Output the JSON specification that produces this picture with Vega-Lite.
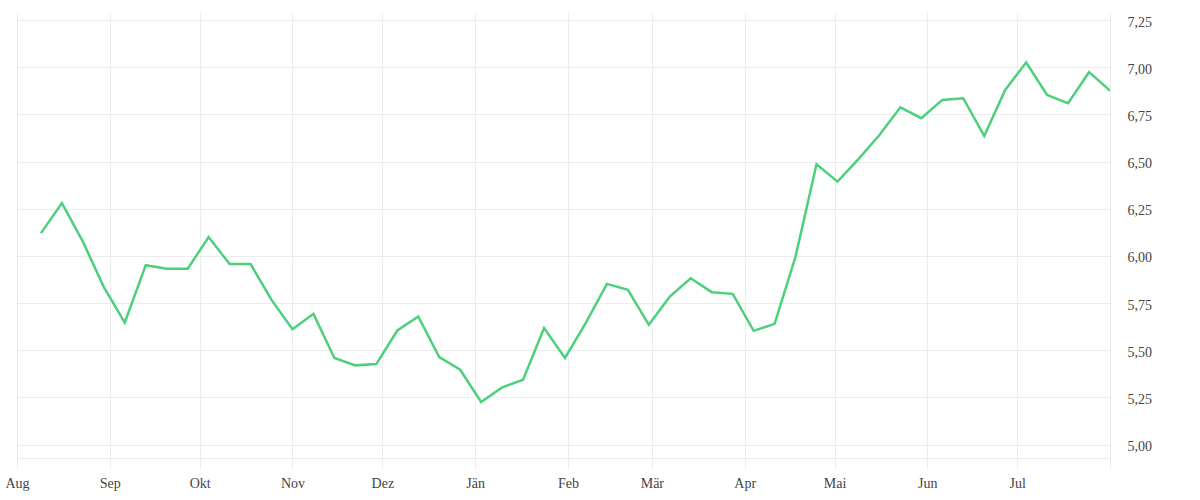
{
  "$schema": "https://vega.github.io/schema/vega-lite/v6.json",
  "width": 1093,
  "height": 446,
  "autosize": {"type": "none"},
  "padding": {"left": 17, "top": 12, "right": 90, "bottom": 42},
  "background": "#ffffff",
  "config": {
    "view": {"stroke": null},
    "font": "Liberation Serif",
    "axis": {
      "labelFont": "Liberation Serif",
      "labelFontSize": 14,
      "labelColor": "#444444",
      "gridColor": "#ececec",
      "domainColor": "#ececec",
      "tickColor": "#ececec",
      "title": null
    }
  },
  "data": {
    "values": [
      {"date": "2022-08-09T00:00", "value": 6.121},
      {"date": "2022-08-16T00:00", "value": 6.280},
      {"date": "2022-08-23T00:00", "value": 6.076},
      {"date": "2022-08-30T00:00", "value": 5.835},
      {"date": "2022-09-06T00:00", "value": 5.647},
      {"date": "2022-09-13T00:00", "value": 5.951},
      {"date": "2022-09-20T00:00", "value": 5.932},
      {"date": "2022-09-27T00:00", "value": 5.932},
      {"date": "2022-10-04T00:00", "value": 6.100},
      {"date": "2022-10-11T00:00", "value": 5.957},
      {"date": "2022-10-18T00:00", "value": 5.957},
      {"date": "2022-10-25T00:00", "value": 5.767},
      {"date": "2022-11-01T00:00", "value": 5.612},
      {"date": "2022-11-08T00:00", "value": 5.693},
      {"date": "2022-11-15T00:00", "value": 5.459},
      {"date": "2022-11-22T00:00", "value": 5.420},
      {"date": "2022-11-29T00:00", "value": 5.427},
      {"date": "2022-12-06T00:00", "value": 5.605},
      {"date": "2022-12-13T00:00", "value": 5.679},
      {"date": "2022-12-20T00:00", "value": 5.464},
      {"date": "2022-12-27T00:00", "value": 5.397},
      {"date": "2023-01-03T00:00", "value": 5.226},
      {"date": "2023-01-10T00:00", "value": 5.303},
      {"date": "2023-01-17T00:00", "value": 5.344},
      {"date": "2023-01-24T00:00", "value": 5.618},
      {"date": "2023-01-31T00:00", "value": 5.459},
      {"date": "2023-02-07T00:00", "value": 5.647},
      {"date": "2023-02-14T00:00", "value": 5.852},
      {"date": "2023-02-21T00:00", "value": 5.820},
      {"date": "2023-02-28T00:00", "value": 5.635},
      {"date": "2023-03-07T00:00", "value": 5.785},
      {"date": "2023-03-14T00:00", "value": 5.882},
      {"date": "2023-03-21T00:00", "value": 5.808},
      {"date": "2023-03-28T00:00", "value": 5.799},
      {"date": "2023-04-04T00:00", "value": 5.603},
      {"date": "2023-04-11T00:00", "value": 5.640},
      {"date": "2023-04-18T00:00", "value": 5.997},
      {"date": "2023-04-25T00:00", "value": 6.486},
      {"date": "2023-05-02T00:00", "value": 6.394},
      {"date": "2023-05-09T00:00", "value": 6.513},
      {"date": "2023-05-16T00:00", "value": 6.641},
      {"date": "2023-05-23T00:00", "value": 6.788},
      {"date": "2023-05-30T00:00", "value": 6.730},
      {"date": "2023-06-06T00:00", "value": 6.827},
      {"date": "2023-06-13T00:00", "value": 6.836},
      {"date": "2023-06-20T00:00", "value": 6.636},
      {"date": "2023-06-27T00:00", "value": 6.880},
      {"date": "2023-07-04T00:00", "value": 7.026},
      {"date": "2023-07-11T00:00", "value": 6.853},
      {"date": "2023-07-18T00:00", "value": 6.809},
      {"date": "2023-07-25T00:00", "value": 6.974},
      {"date": "2023-08-01T00:00", "value": 6.876}
    ]
  },
  "mark": {"type": "line", "color": "#4cd07d", "strokeWidth": 2.5, "clip": true},
  "encoding": {
    "x": {
      "field": "date",
      "type": "temporal",
      "scale": {"domain": [{"year": 2022, "month": 8, "date": 1}, {"year": 2023, "month": 8, "date": 1}], "nice": false},
      "axis": {
        "values": [
          {"year": 2022, "month": 8, "date": 1},
          {"year": 2022, "month": 9, "date": 1},
          {"year": 2022, "month": 10, "date": 1},
          {"year": 2022, "month": 11, "date": 1},
          {"year": 2022, "month": 12, "date": 1},
          {"year": 2023, "month": 1, "date": 1},
          {"year": 2023, "month": 2, "date": 1},
          {"year": 2023, "month": 3, "date": 1},
          {"year": 2023, "month": 4, "date": 1},
          {"year": 2023, "month": 5, "date": 1},
          {"year": 2023, "month": 6, "date": 1},
          {"year": 2023, "month": 7, "date": 1},
          {"year": 2023, "month": 8, "date": 1}
        ],
        "labelExpr": "year(datum.value) == 2023 && month(datum.value) == 7 ? '' : ['Jän','Feb','Mär','Apr','Mai','Jun','Jul','Aug','Sep','Okt','Nov','Dez'][month(datum.value)]",
        "tickSize": 10,
        "labelPadding": 8,
        "labelAlign": "center",
        "labelOverlap": false,
        "labelBound": false,
        "labelFlush": false,
        "domain": true
      }
    },
    "y": {
      "field": "value",
      "type": "quantitative",
      "scale": {"domain": [4.929, 7.293], "nice": false, "zero": false},
      "axis": {
        "orient": "right",
        "values": [5, 5.25, 5.5, 5.75, 6, 6.25, 6.5, 6.75, 7, 7.25],
        "labelExpr": "replace(format(datum.value, '.2f'), '.', ',')",
        "ticks": false,
        "domain": false,
        "labelPadding": 17,
        "labelOffset": 2,
        "labelOverlap": false
      }
    }
  }
}
